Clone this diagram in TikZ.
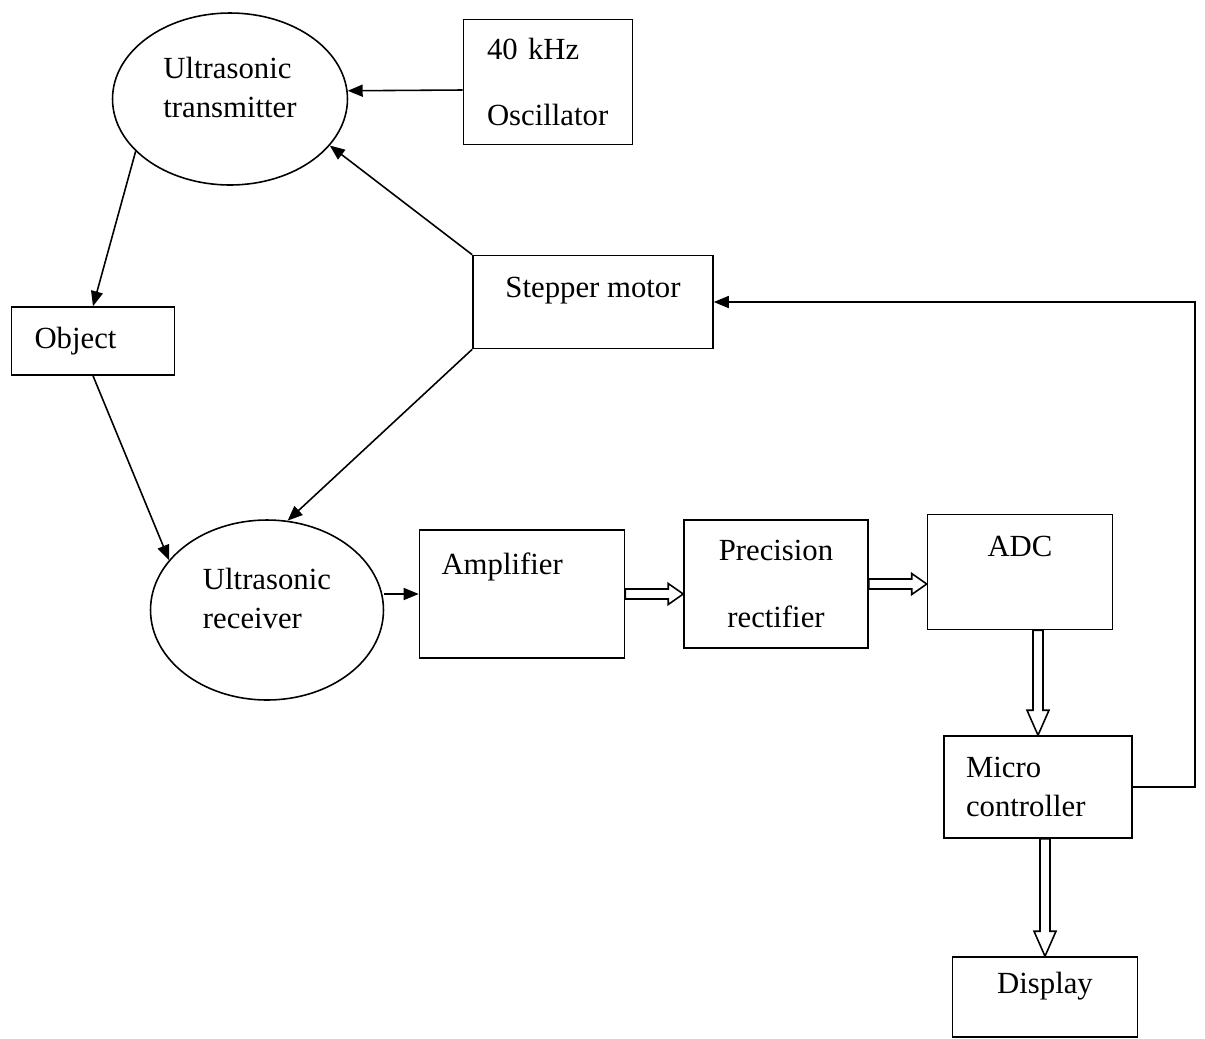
\documentclass[tikz,border=0pt]{standalone}
\usepackage{fontspec}
\setmainfont{Liberation Serif}
\usetikzlibrary{arrows.meta,shapes.geometric,calc}

% hollow bus arrows
\newcommand{\fatright}[2]{\draw[fill=white] let \p1=#1, \p2=#2 in
  (\x1,\y1+0.1cm) -- (\x2-0.3cm,\y1+0.1cm) -- (\x2-0.3cm,\y1+0.21cm) -- (\x2,\y1)
  -- (\x2-0.3cm,\y1-0.21cm) -- (\x2-0.3cm,\y1-0.1cm) -- (\x1,\y1-0.1cm) -- cycle;}
\newcommand{\fatdown}[2]{\draw[fill=white] let \p1=#1, \p2=#2 in
  (\x1-0.1cm,\y1) -- (\x1-0.1cm,\y2+0.5cm) -- (\x1-0.22cm,\y2+0.5cm) -- (\x1,\y2)
  -- (\x1+0.22cm,\y2+0.5cm) -- (\x1+0.1cm,\y2+0.5cm) -- (\x1+0.1cm,\y1) -- cycle;}

\begin{document}
\begin{tikzpicture}[x=0.02cm, y=-0.02cm, line width=0.9pt,
    font=\fontsize{17.5}{22}\selectfont,
    block/.style={draw, inner sep=0pt},
    oval/.style={draw, ellipse, inner sep=0pt, align=left, text depth=0.46cm},
    arr/.style={-{Triangle[length=0.3cm, width=0.24cm]}}]
  \useasboundingbox (0,0) rectangle (1205,1039);

  \node[oval, minimum width=4.7cm, minimum height=3.44cm] (tx) at (230,99) {Ultrasonic\\transmitter};
  \node[block, minimum width=3.38cm, minimum height=2.5cm, text width=2.44cm, align=left] (osc) at (548,82) {40 kHz\\[16pt]Oscillator};
  \node[block, minimum width=4.8cm, minimum height=1.86cm, text depth=0.58cm] (step) at (593,302) {Stepper motor};
  \node[block, minimum width=3.26cm, minimum height=1.36cm, text width=2.34cm, align=left] (obj) at (93,341) {Object};
  \node[oval, minimum width=4.66cm, minimum height=3.6cm] (rx) at (267,610) {Ultrasonic\\receiver};
  \node[block, minimum width=4.1cm, minimum height=2.56cm, text width=3.22cm, align=left, text depth=1.22cm] (amp) at (522,594) {Amplifier};
  \node[block, minimum width=3.68cm, minimum height=2.56cm, align=center] (prec) at (776,584) {Precision\\[16pt]rectifier};
  \node[block, minimum width=3.7cm, minimum height=2.3cm, text depth=1.04cm] (adc) at (1020,572) {ADC};
  \node[block, minimum width=3.76cm, minimum height=2.04cm, text width=2.88cm, align=left] (micro) at (1038,787) {Micro\\controller};
  \node[block, minimum width=3.7cm, minimum height=1.6cm, text depth=0.58cm] (disp) at (1045,997) {Display};
  \coordinate (fb) at (1195,290);

  \draw[arr] ([yshift=-0.16cm]osc.west) -- (tx.4);
  \draw[arr] (step.north west) -- (tx.-25);
  \draw[arr] (step.south west) -- (rx.77);
  \draw[arr] (tx.209) -- (obj.north);
  \draw[arr] (obj.south) -- (rx.153);
  \draw[arr] (rx.east |- amp.west) -- (amp.west);
  \draw[arr] (micro.east) -| (fb |- step.east) -- (step.east);

  \fatright{(amp.east)}{(prec.west)}
  \fatright{(prec.east)}{(adc.west)}
  \fatdown{(micro.north |- adc.south)}{(micro.north)}
  \fatdown{(disp.north |- micro.south)}{(disp.north)}
\end{tikzpicture}
\end{document}
